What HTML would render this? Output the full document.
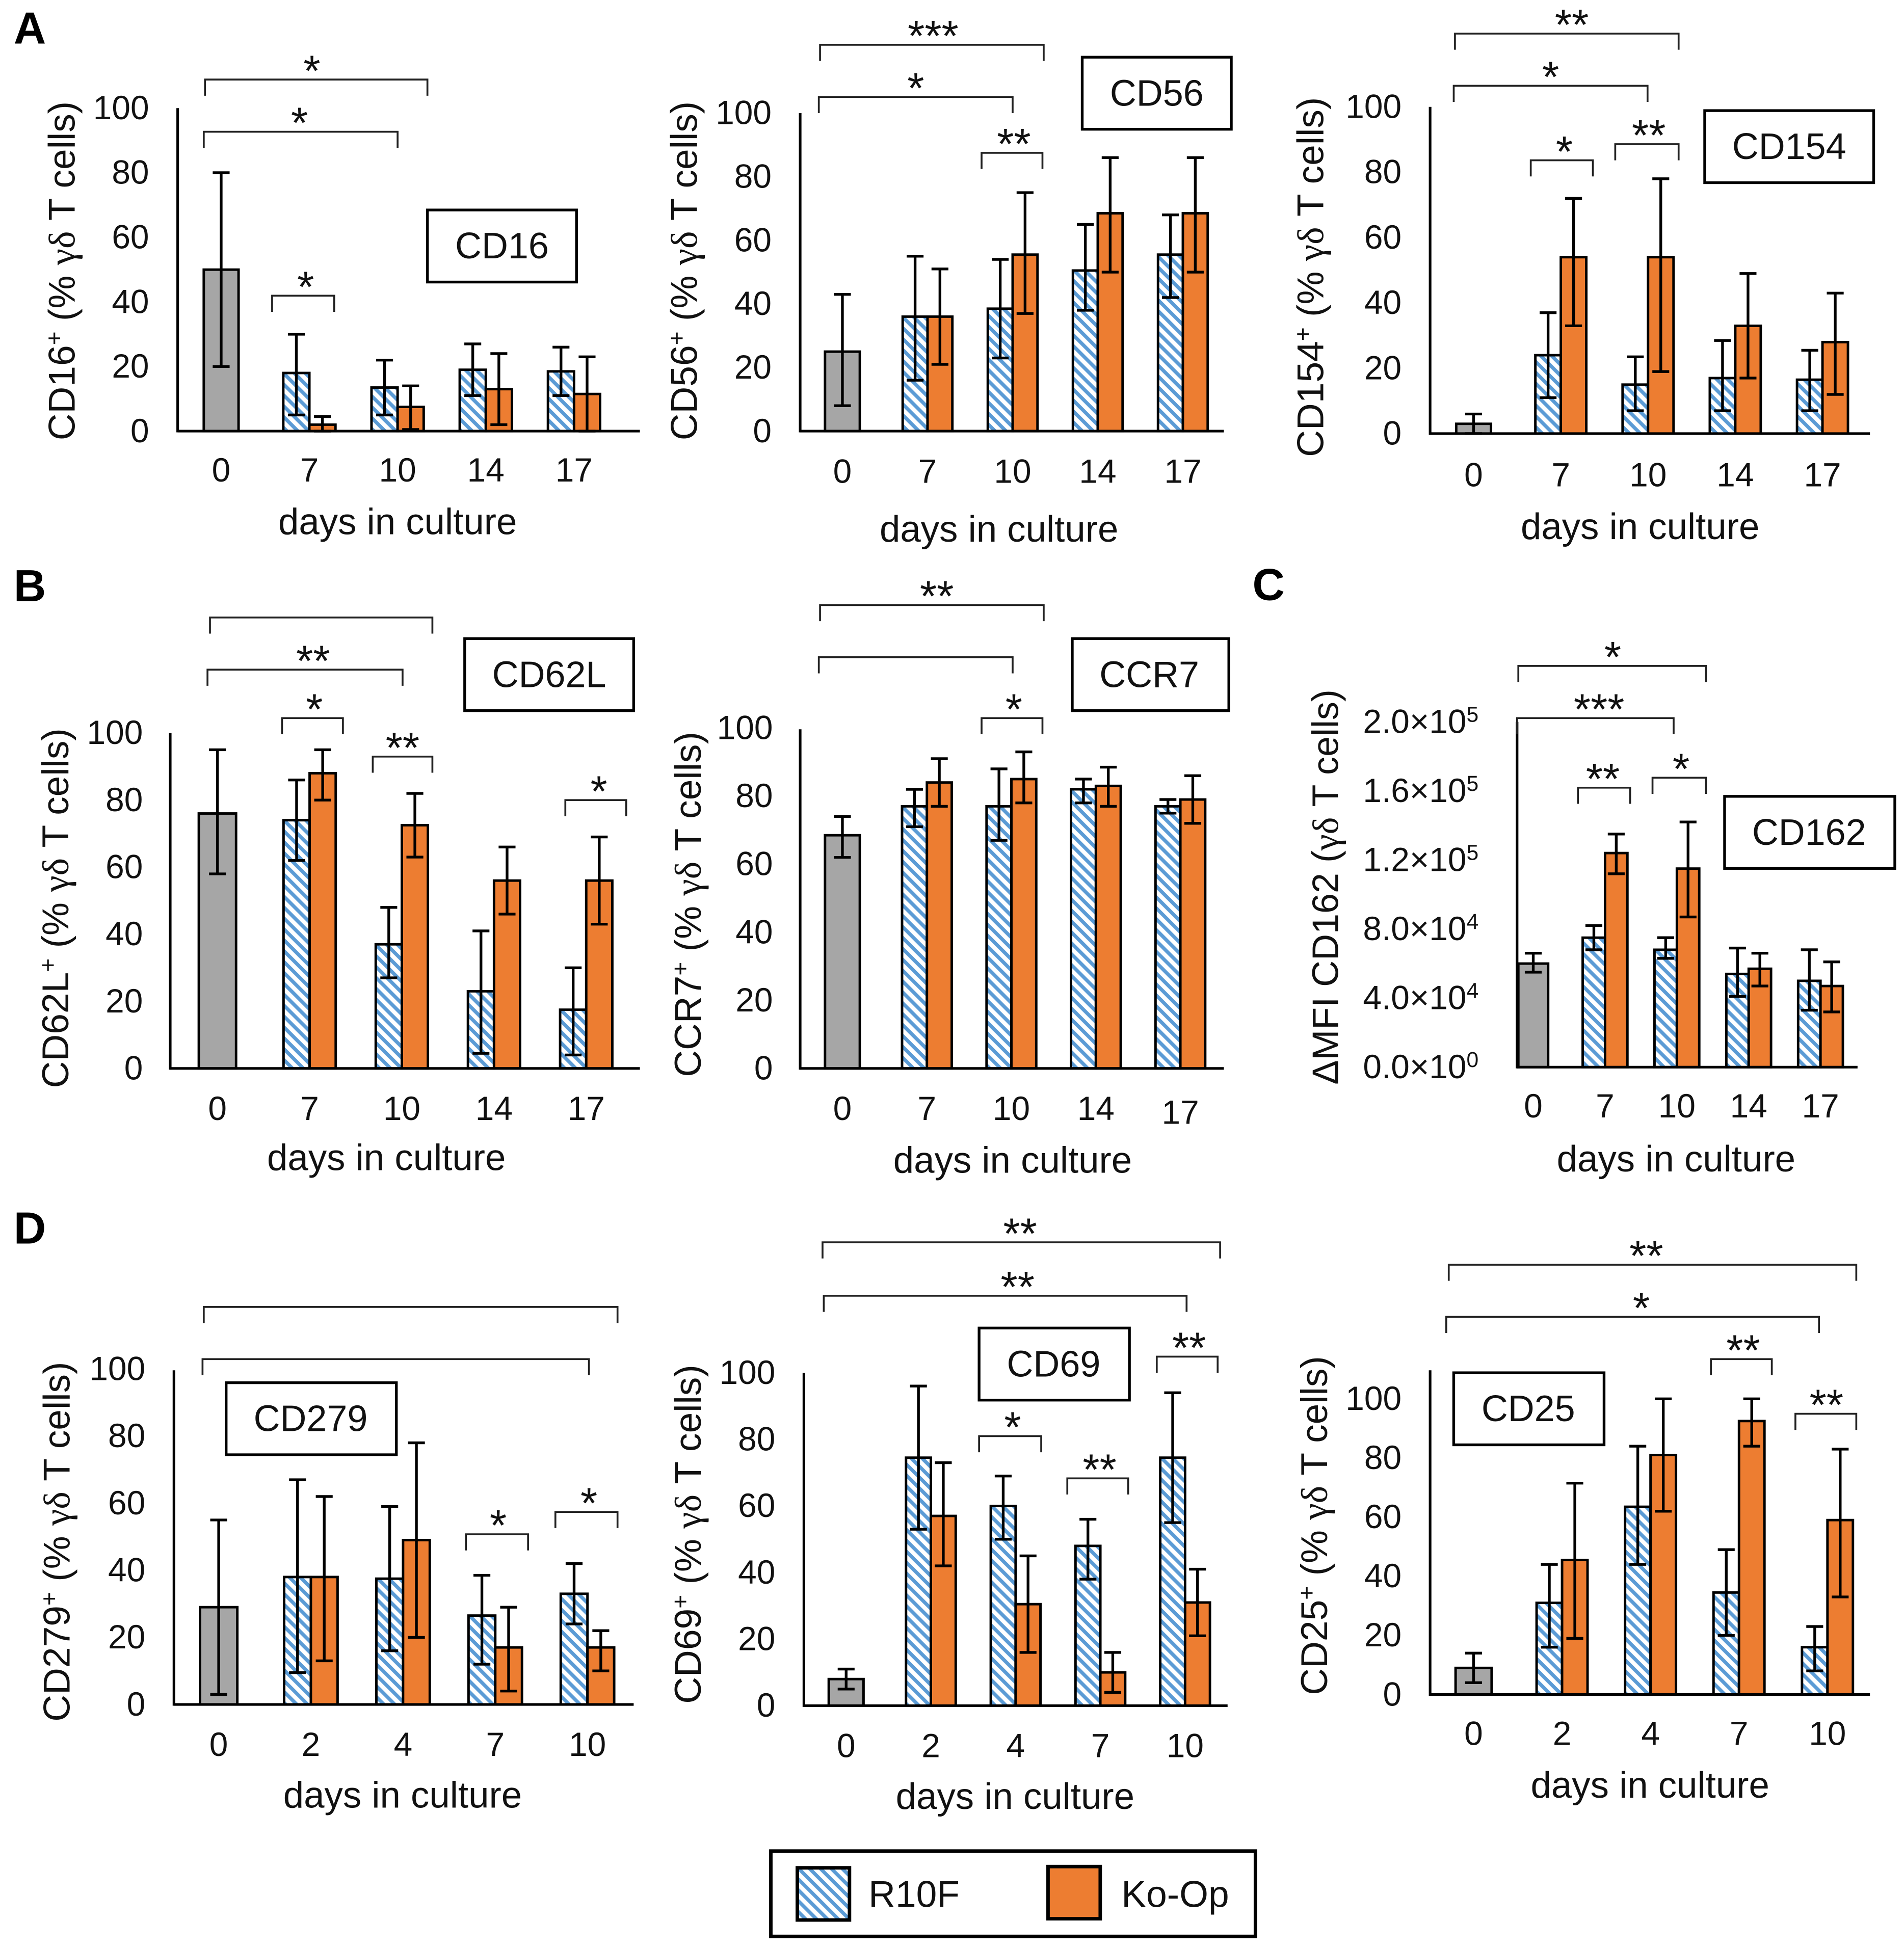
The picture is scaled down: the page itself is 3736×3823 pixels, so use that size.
<!DOCTYPE html>
<html lang="en">
<head>
<meta charset="utf-8">
<title>γδ T cell surface marker expression in culture</title>
<style>
html,body{margin:0;padding:0;background:#fff}
svg{display:block}
text{font-family:"Liberation Sans",sans-serif;fill:#111}
.t{font-size:30px}
.g{font-family:"Liberation Serif",serif}
.p{font-size:36px;font-weight:bold;fill:#000}
.box{fill:#fff;stroke:#000;stroke-width:2.2}
</style>
</head>
<body>
<svg id="fig" xmlns="http://www.w3.org/2000/svg" width="3736" height="3823" viewBox="0 0 1532.4 1568">
<defs>
<pattern id="hatch" patternUnits="userSpaceOnUse" width="6.2" height="6.2" patternTransform="rotate(45)">
<rect width="6.2" height="6.2" fill="#fff"/><rect width="6.2" height="2.9" fill="#5b9bd5"/>
</pattern>
</defs>
<rect width="1533" height="1568" fill="#fff"/>

<text class="p" x="11" y="35">A</text>
<text class="p" x="11" y="484">B</text>
<text class="p" x="1008" y="483">C</text>
<text class="p" x="11" y="1001">D</text>

<g text-anchor="middle">
<text class="t" transform="translate(60,218) rotate(-90)">CD16<tspan dy="-10" font-size="19">+</tspan><tspan dy="10"> (% </tspan><tspan class="g">γδ</tspan> T cells)</text>
<text class="t" transform="translate(561,218) rotate(-90)">CD56<tspan dy="-10" font-size="19">+</tspan><tspan dy="10"> (% </tspan><tspan class="g">γδ</tspan> T cells)</text>
<text class="t" transform="translate(1065,223) rotate(-90)">CD154<tspan dy="-10" font-size="19">+</tspan><tspan dy="10"> (% </tspan><tspan class="g">γδ</tspan> T cells)</text>
<text class="t" transform="translate(55,731) rotate(-90)">CD62L<tspan dy="-10" font-size="19">+</tspan><tspan dy="10"> (% </tspan><tspan class="g">γδ</tspan> T cells)</text>
<text class="t" transform="translate(564,728) rotate(-90)">CCR7<tspan dy="-10" font-size="19">+</tspan><tspan dy="10"> (% </tspan><tspan class="g">γδ</tspan> T cells)</text>
<text class="t" style="font-size:29.5px" transform="translate(1077,714) rotate(-90)">ΔMFI CD162 (<tspan class="g">γδ</tspan> T cells)</text>
<text class="t" transform="translate(56,1241) rotate(-90)">CD279<tspan dy="-10" font-size="19">+</tspan><tspan dy="10"> (% </tspan><tspan class="g">γδ</tspan> T cells)</text>
<text class="t" transform="translate(564,1235) rotate(-90)">CD69<tspan dy="-10" font-size="19">+</tspan><tspan dy="10"> (% </tspan><tspan class="g">γδ</tspan> T cells)</text>
<text class="t" transform="translate(1068,1228) rotate(-90)">CD25<tspan dy="-10" font-size="19">+</tspan><tspan dy="10"> (% </tspan><tspan class="g">γδ</tspan> T cells)</text>
</g>

<g text-anchor="middle" font-size="29.8">
<text x="320" y="430">days in culture</text>
<text x="804" y="436">days in culture</text>
<text x="1320" y="434">days in culture</text>
<text x="311" y="942">days in culture</text>
<text x="815" y="944">days in culture</text>
<text x="1349" y="943">days in culture</text>
<text x="324" y="1455">days in culture</text>
<text x="817" y="1456">days in culture</text>
<text x="1328" y="1447">days in culture</text>
</g>

<g id="charts"></g>

<g text-anchor="middle" font-size="29.5">
<g><rect class="box" x="344" y="169" width="120" height="58"/><text x="404" y="208">CD16</text></g>
<g><rect class="box" x="871" y="46" width="120" height="58"/><text x="931" y="85">CD56</text></g>
<g><rect class="box" x="1372" y="89" width="136" height="58"/><text x="1440" y="128">CD154</text></g>
<g><rect class="box" x="374" y="514" width="136" height="58"/><text x="442" y="553">CD62L</text></g>
<g><rect class="box" x="863" y="514" width="126" height="58"/><text x="925" y="553">CCR7</text></g>
<g><rect class="box" x="1388" y="641" width="137" height="58"/><text x="1456" y="680">CD162</text></g>
<g><rect class="box" x="182" y="1113" width="137" height="58"/><text x="250" y="1152">CD279</text></g>
<g><rect class="box" x="788" y="1069" width="121" height="58"/><text x="848" y="1108">CD69</text></g>
<g><rect class="box" x="1170" y="1105" width="121" height="58"/><text x="1230" y="1144">CD25</text></g>
</g>

<g>
<rect x="620.4" y="1490" width="390" height="68.7" fill="#fff" stroke="#000" stroke-width="2.8"/>
<rect x="641.7" y="1503.5" width="42" height="42" fill="url(#hatch)" stroke="#000" stroke-width="2.8"/>
<text x="699" y="1535" font-size="30">R10F</text>
<rect x="843.5" y="1502.5" width="42" height="42" fill="#ed7d31" stroke="#000" stroke-width="2.8"/>
<text x="902.5" y="1535" font-size="30">Ko-Op</text>
</g>
</svg>

<script>
// Shared categories and ticks
const daysLate = ['0','7','10','14','17'];
const daysEarly = ['0','2','4','7','10'];
const percentTicks = [0,20,40,60,80,100];
const mfiTicks = [0,40000,80000,120000,160000,200000];

// CD16
const cd16R10F = [50,18,13.5,19,18.5];
const cd16R10FHigh = [80,30,22,27,26];
const cd16R10FLow = [20,5,5,11,11];
const cd16KoOp = [null,2,7.5,13,11.5];
const cd16KoOpHigh = [null,4.5,14,24,23];
const cd16KoOpLow = [null,0,0.5,2,0];

// CD56
const cd56R10F = [25,36,38.5,50.5,55.5];
const cd56R10FHigh = [43,55,54,65,68];
const cd56R10FLow = [8,16,23,38,42];
const cd56KoOp = [null,36,55.5,68.5,68.5];
const cd56KoOpHigh = [null,51,75,86,86];
const cd56KoOpLow = [null,21,37,50,50];

// CD154
const cd154R10F = [3,24,15,17,16.5];
const cd154R10FHigh = [6,37,23.5,28.5,25.5];
const cd154R10FLow = [0,11,7,7,7];
const cd154KoOp = [null,54,54,33,28];
const cd154KoOpHigh = [null,72,78,49,43];
const cd154KoOpLow = [null,33,19,17,12];

// CD62L
const cd62lR10F = [76,74,37,23,17.5];
const cd62lR10FHigh = [95,86,48,41,30];
const cd62lR10FLow = [58,62,27,4.5,4];
const cd62lKoOp = [null,88,72.5,56,56];
const cd62lKoOpHigh = [null,95,82,66,69];
const cd62lKoOpLow = [null,80,63,46,43];

// CCR7
const ccr7R10F = [68.5,77,77,82,77];
const ccr7R10FHigh = [74,82,88,85,79];
const ccr7R10FLow = [62,71,67,78,75];
const ccr7KoOp = [null,84,85,83,79];
const ccr7KoOpHigh = [null,91,93,88.5,86];
const ccr7KoOpLow = [null,77,78,77,72];

// CD162
const cd162R10F = [60000,75000,68000,54000,50000];
const cd162R10FHigh = [66000,82000,75000,69000,68000];
const cd162R10FLow = [55000,68000,63000,41000,33000];
const cd162KoOp = [null,124000,115000,57000,47000];
const cd162KoOpHigh = [null,135000,142000,66000,61000];
const cd162KoOpLow = [null,112000,87000,47000,32000];

// CD279
const cd279R10F = [29,38,37.5,26.5,33];
const cd279R10FHigh = [55,67,59,38.5,42];
const cd279R10FLow = [3,9.5,16,12,24];
const cd279KoOp = [null,38,49,17,17];
const cd279KoOpHigh = [null,62,78,29,22];
const cd279KoOpLow = [null,13,20,4,10];

// CD69
const cd69R10F = [8,74.5,60,48,74.5];
const cd69R10FHigh = [11,96,69,56,94];
const cd69R10FLow = [5,53,50,38,55];
const cd69KoOp = [null,57,30.5,10,31];
const cd69KoOpHigh = [null,73,45,16,41];
const cd69KoOpLow = [null,42,16,4,21];

// CD25
const cd25R10F = [9,31,63.5,34.5,16];
const cd25R10FHigh = [14,44,84,49,23];
const cd25R10FLow = [4,16,44,20,8];
const cd25KoOp = [null,45.5,81,92.5,59];
const cd25KoOpHigh = [null,71.5,100,100,83];
const cd25KoOpLow = [null,19,62,84,33];

// Significance annotations: [left, right, level, stars, starCentre]
const bracketsCd16 = [[165,344,64,'*',251],[164,320,106,'*',241],[219,269,238,'*',246]];
const bracketsCd56 = [[660,840,36,'***',751],[659,815,78,'*',737],[790,839,123,'**',816]];
const bracketsCd154 = [[1171,1351,27,'**',1265],[1170,1326,69,'*',1248],[1232,1282,129,'*',1259],[1300,1351,116,'**',1327]];
const bracketsCd62l = [[169,348,497,'',0],[167,324,539,'**',252],[227,276,578,'*',253],[300,348,609,'**',324],[455,504,644,'*',482]];
const bracketsCcr7 = [[660,840,487,'**',754],[659,815,529,'',0],[790,839,578,'*',816]];
const bracketsCd162 = [[1222,1373,536,'*',1298],[1221,1347,578,'***',1287],[1270,1312,634,'**',1290],[1330,1373,626,'*',1353]];
const bracketsCd279 = [[164,497,1052,'',0],[163,474,1094,'',0],[375,425,1235,'*',401],[447,497,1217,'*',474]];
const bracketsCd69 = [[662,982,1000,'**',821],[663,955,1043,'**',819],[788,838,1156,'*',815],[859,908,1190,'**',885],[931,980,1092,'**',957]];
const bracketsCd25 = [[1166,1494,1018,'**',1325],[1164,1464,1060,'*',1321],[1377,1426,1094,'**',1403],[1445,1494,1138,'**',1470]];

const NS = 'http://www.w3.org/2000/svg';
const chartsRoot = document.getElementById('charts');

function make(tag, parent, attrs) {
  const el = document.createElementNS(NS, tag);
  for (const key in attrs) el.setAttribute(key, attrs[key]);
  parent.appendChild(el);
  return el;
}

function fillSciLabel(label, v) {
  const exp = v === 0 ? 0 : Math.floor(Math.log10(v));
  const mantissa = v / Math.pow(10, exp);
  label.textContent = mantissa.toFixed(1) + '×10';
  const sup = make('tspan', label, { dy: -9, 'font-size': 17.5 });
  sup.textContent = String(exp);
}

function drawErrorBar(group, name, cx, yHigh, yLow) {
  const err = make('path', group, {
    d: 'M' + (cx - 6.8) + ' ' + yHigh + 'H' + (cx + 6.8) + 'M' + cx + ' ' + yHigh + 'V' + yLow + 'M' + (cx - 6.8) + ' ' + yLow + 'H' + (cx + 6.8),
    fill: 'none', stroke: '#000', 'stroke-width': 2.2
  });
  
  
}

function drawChart(c) {
  const g = make('g', chartsRoot, {});
  
  

  // Axis functions
  const yScale = v => c.base - (v / c.yMax) * (c.base - c.yMaxPx);
  const xScale = i => c.firstX + i * c.step;

  // Tick labels
  c.ticks.forEach(t => {
    const label = make('text', g, {
      x: c.tickRight, y: yScale(t) + c.tickSize * 0.33,
      'text-anchor': 'end', 'font-size': c.tickSize
    });
    
    
    if (c.sci) fillSciLabel(label, t);
    else label.textContent = String(t);
  });
  c.days.forEach((d, i) => {
    const label = make('text', g, {
      x: xScale(i), y: c.labelY + 9.5 + (i === c.days.length - 1 ? (c.lastDy || 0) : 0),
      'text-anchor': 'middle', 'font-size': 27
    });
    
    
    label.textContent = d;
  });

  // Bars
  c.days.forEach((d, i) => {
    const cx = xScale(i);
    if (c.koOp[i] === null) {
      const bar = make('rect', g, {
        x: cx - c.grayW / 2, y: yScale(c.r10f[i]), width: c.grayW, height: c.base - yScale(c.r10f[i]),
        fill: '#a6a6a6', stroke: '#000', 'stroke-width': 2
      });
      
      
      drawErrorBar(g, c.id + '-error-baseline-day-' + d, cx, yScale(c.r10fHigh[i]), yScale(c.r10fLow[i]));
      return;
    }
    const r = make('rect', g, {
      x: cx - c.barW, y: yScale(c.r10f[i]), width: c.barW, height: c.base - yScale(c.r10f[i]),
      fill: 'url(#hatch)', stroke: '#000', 'stroke-width': 2
    });
    
    
    const k = make('rect', g, {
      x: cx, y: yScale(c.koOp[i]), width: c.barW, height: c.base - yScale(c.koOp[i]),
      fill: '#ed7d31', stroke: '#000', 'stroke-width': 2
    });
    
    
    drawErrorBar(g, c.id + '-error-r10f-day-' + d, cx - c.barW / 2, yScale(c.r10fHigh[i]), yScale(c.r10fLow[i]));
    drawErrorBar(g, c.id + '-error-ko-op-day-' + d, cx + c.barW / 2, yScale(c.koOpHigh[i]), yScale(c.koOpLow[i]));
  });

  // Axes
  const axisY = make('line', g, { x1: c.axisX, x2: c.axisX, y1: c.axisTop, y2: c.base + 1, stroke: '#000', 'stroke-width': 2.1 });
  
  
  const axisX = make('line', g, { x1: c.axisX, x2: c.axisRight, y1: c.base, y2: c.base, stroke: '#000', 'stroke-width': 2.1 });
  
  

  // Significance brackets
  c.brackets.forEach(b => {
    const path = make('path', g, {
      d: 'M' + b[0] + ' ' + (b[2] + 13) + 'V' + b[2] + 'H' + b[1] + 'V' + (b[2] + 13),
      fill: 'none', stroke: '#222', 'stroke-width': 1.5
    });
    
    
    if (b[3]) {
      const star = make('text', g, {
        x: b[4], y: b[2] + 5, 'text-anchor': 'middle', 'font-size': 35
      });
      
      
      star.textContent = b[3];
    }
  });
}

const charts = [
  {id:'cd16', days:daysLate, ticks:percentTicks, yMax:100, r10f:cd16R10F, r10fHigh:cd16R10FHigh, r10fLow:cd16R10FLow, koOp:cd16KoOp, koOpHigh:cd16KoOpHigh, koOpLow:cd16KoOpLow, brackets:bracketsCd16,
   axisX:143, axisRight:515, axisTop:87, yMaxPx:87, base:347, firstX:178, step:71, barW:21, grayW:28, labelY:378, tickRight:120, tickSize:27},
  {id:'cd56', days:daysLate, ticks:percentTicks, yMax:100, r10f:cd56R10F, r10fHigh:cd56R10FHigh, r10fLow:cd56R10FLow, koOp:cd56KoOp, koOpHigh:cd56KoOpHigh, koOpLow:cd56KoOpLow, brackets:bracketsCd56,
   axisX:644, axisRight:985, axisTop:91, yMaxPx:91, base:347, firstX:678, step:68.5, barW:20, grayW:28, labelY:379, tickRight:621, tickSize:27},
  {id:'cd154', days:daysLate, ticks:percentTicks, yMax:100, r10f:cd154R10F, r10fHigh:cd154R10FHigh, r10fLow:cd154R10FLow, koOp:cd154KoOp, koOpHigh:cd154KoOpHigh, koOpLow:cd154KoOpLow, brackets:bracketsCd154,
   axisX:1151, axisRight:1505, axisTop:86, yMaxPx:86, base:349, firstX:1186, step:70.2, barW:20.5, grayW:28, labelY:382, tickRight:1128, tickSize:27},
  {id:'cd62l', days:daysLate, ticks:percentTicks, yMax:100, r10f:cd62lR10F, r10fHigh:cd62lR10FHigh, r10fLow:cd62lR10FLow, koOp:cd62lKoOp, koOpHigh:cd62lKoOpHigh, koOpLow:cd62lKoOpLow, brackets:bracketsCd62l,
   axisX:137, axisRight:515, axisTop:590, yMaxPx:590, base:860, firstX:175, step:74.2, barW:21, grayW:30, labelY:892, tickRight:115, tickSize:27},
  {id:'ccr7', days:daysLate, ticks:percentTicks, yMax:100, r10f:ccr7R10F, r10fHigh:ccr7R10FHigh, r10fLow:ccr7R10FLow, koOp:ccr7KoOp, koOpHigh:ccr7KoOpHigh, koOpLow:ccr7KoOpLow, brackets:bracketsCcr7,
   axisX:644, axisRight:985, axisTop:587, yMaxPx:586, base:860, firstX:678, step:68, barW:20, grayW:28, labelY:892, lastDy:3, tickRight:622, tickSize:27},
  {id:'cd162', sci:true, days:daysLate, ticks:mfiTicks, yMax:200000, r10f:cd162R10F, r10fHigh:cd162R10FHigh, r10fLow:cd162R10FLow, koOp:cd162KoOp, koOpHigh:cd162KoOpHigh, koOpLow:cd162KoOpLow, brackets:bracketsCd162,
   axisX:1221, axisRight:1495, axisTop:581, yMaxPx:581, base:859, firstX:1234, step:57.8, barW:18, grayW:24, labelY:890, tickRight:1190, tickSize:27},
  {id:'cd279', days:daysEarly, ticks:percentTicks, yMax:100, r10f:cd279R10F, r10fHigh:cd279R10FHigh, r10fLow:cd279R10FLow, koOp:cd279KoOp, koOpHigh:cd279KoOpHigh, koOpLow:cd279KoOpLow, brackets:bracketsCd279,
   axisX:140, axisRight:510, axisTop:1103, yMaxPx:1102, base:1372, firstX:176, step:74.2, barW:21.5, grayW:30, labelY:1404, tickRight:117, tickSize:27},
  {id:'cd69', days:daysEarly, ticks:percentTicks, yMax:100, r10f:cd69R10F, r10fHigh:cd69R10FHigh, r10fLow:cd69R10FLow, koOp:cd69KoOp, koOpHigh:cd69KoOpHigh, koOpLow:cd69KoOpLow, brackets:bracketsCd69,
   axisX:647, axisRight:988, axisTop:1105, yMaxPx:1105, base:1373, firstX:681, step:68.2, barW:20, grayW:28, labelY:1405, tickRight:624, tickSize:27},
  {id:'cd25', days:daysEarly, ticks:percentTicks, yMax:100, r10f:cd25R10F, r10fHigh:cd25R10FHigh, r10fLow:cd25R10FLow, koOp:cd25KoOp, koOpHigh:cd25KoOpHigh, koOpLow:cd25KoOpLow, brackets:bracketsCd25,
   axisX:1151, axisRight:1505, axisTop:1103, yMaxPx:1126, base:1364, firstX:1186, step:71.2, barW:20.5, grayW:29, labelY:1395, tickRight:1128, tickSize:27}
];

charts.forEach(drawChart);
</script>
</body>
</html>
